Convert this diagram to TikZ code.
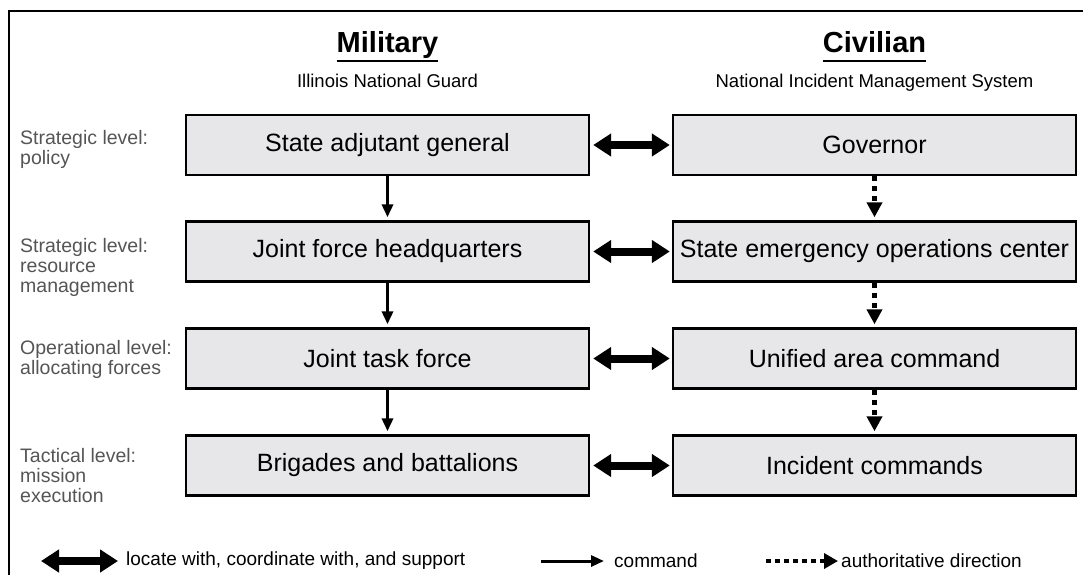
\documentclass[tikz,border=0pt]{standalone}
\usepackage{fontspec}
\setmainfont{Liberation Sans}
\usetikzlibrary{arrows.meta}
\definecolor{boxgray}{RGB}{231,231,233}
\definecolor{lblgray}{RGB}{85,85,85}
\begin{document}
\begin{tikzpicture}[x=1pt,y=-1pt,
  box/.style={draw, line width=2.4pt, fill=boxgray, minimum width=403pt, minimum height=60pt, inner sep=0pt, font=\fontsize{25}{28}\selectfont},
  lvl/.style={anchor=north west, align=left, inner sep=0pt, text=lblgray, font=\fontsize{19.5}{20}\selectfont},
  head/.style={inner sep=0pt, font=\bfseries\fontsize{29}{31}\selectfont, anchor=base},
  sub/.style={inner sep=0pt, font=\fontsize{18.5}{20}\selectfont, anchor=base},
  cmd/.style={line width=3.5pt, -{Triangle[length=13pt,width=11pt]}, shorten >=3pt},
  auth/.style={line width=4.5pt, dash pattern=on 5pt off 5pt, -{Triangle[length=15pt,width=15pt]}, shorten >=3pt},
  coord/.style={line width=8pt, {Triangle[length=18pt,width=22pt]}-{Triangle[length=18pt,width=22pt]}},
  legtxt/.style={anchor=west, inner sep=0pt, font=\fontsize{19}{20}\selectfont}]
\useasboundingbox (0,0) rectangle (1083,574);
% frame
\draw[line width=2.8pt, line join=miter] (9,590) -- (9,11) -- (1100,11);
% headers
\node[head] (milh) at (387.5,52) {Military};
\draw[line width=2.2pt] ([yshift=-9pt]milh.base west) -- ([yshift=-9pt]milh.base east);
\node[sub] (milsub) at (387.5,87) {Illinois National Guard};
\node[head] (civh) at (874.5,52) {Civilian};
\draw[line width=2.2pt] ([yshift=-9pt]civh.base west) -- ([yshift=-9pt]civh.base east);
\node[sub] (civsub) at (874.5,87) {National Incident Management System};
% level labels
\node[lvl] (l1) at (20,130) {Strategic level:\\policy};
\node[lvl] (l2) at (20,238) {Strategic level:\\resource\\management};
\node[lvl] (l3) at (20,340) {Operational level:\\allocating forces};
\node[lvl] (l4) at (20,448) {Tactical level:\\mission\\execution};
% boxes
\node[box] (m1) at (387.5,145) {State adjutant general};
\node[box] (m2) at (387.5,251.5) {Joint force headquarters};
\node[box] (m3) at (387.5,358.5) {Joint task force};
\node[box] (m4) at (387.5,465.5) {Brigades and battalions};
\node[box] (c1) at (874.5,145) {Governor};
\node[box] (c2) at (874.5,251.5) {State emergency operations center};
\node[box] (c3) at (874.5,358.5) {Unified area command};
\node[box] (c4) at (874.5,465.5) {Incident commands};
% command arrows
\draw[cmd] (m1) -- (m2);
\draw[cmd] (m2) -- (m3);
\draw[cmd] (m3) -- (m4);
% authoritative direction
\draw[auth] (c1) -- (c2);
\draw[auth] (c2) -- (c3);
\draw[auth] (c3) -- (c4);
% coordinate arrows
\draw[coord, shorten <=3pt, shorten >=2pt] (m1) -- (c1);
\draw[coord, shorten <=3pt, shorten >=2pt] (m2) -- (c2);
\draw[coord, shorten <=3pt, shorten >=2pt] (m3) -- (c3);
\draw[coord, shorten <=3pt, shorten >=2pt] (m4) -- (c4);
% legend
\coordinate (la) at (41,561);
\coordinate (lb) at (118,561);
\draw[coord] (la) -- (lb);
\node[legtxt] (lt1) at (126,561) {locate with, coordinate with, and support};
\coordinate (lc) at (541,561);
\coordinate (ld) at (604,561);
\draw[line width=3pt, -{Triangle[length=13pt,width=11pt]}] (lc) -- (ld);
\node[legtxt] (lt2) at (614,561) {command};
\coordinate (le) at (766,561);
\coordinate (lf) at (838,561);
\draw[line width=4.5pt, dash pattern=on 5pt off 4pt, -{Triangle[length=14pt,width=15pt]}] (le) -- (lf);
\node[legtxt] (lt3) at (841,561) {authoritative direction};
\end{tikzpicture}
\end{document}
